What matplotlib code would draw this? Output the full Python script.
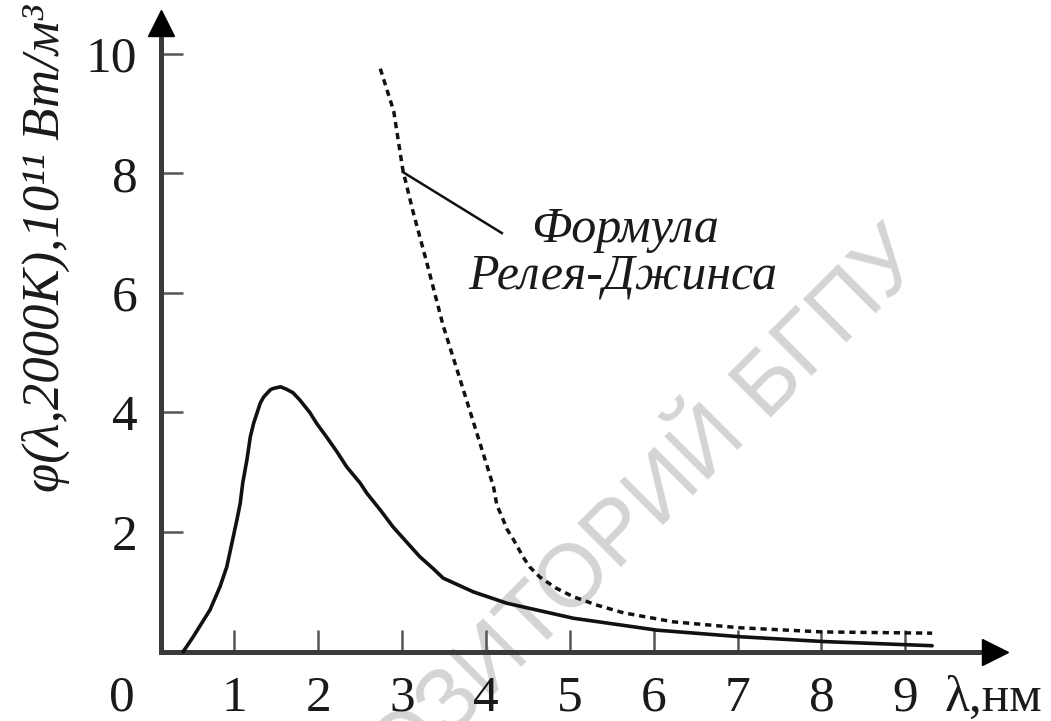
import matplotlib
matplotlib.use("Agg")
import matplotlib.pyplot as plt
from matplotlib.transforms import offset_copy

# ---- data ----
x_ticks = [1, 2, 3, 4, 5, 6, 7, 8, 9]
x_tick_labels = ["1", "2", "3", "4", "5", "6", "7", "8", "9"]
y_ticks = [2, 4, 6, 8, 10]
y_tick_labels = ["2", "4", "6", "8", "10"]

# Planck curve (solid)
planck_x = [0.39, 0.51, 0.71, 0.83, 0.91, 0.97, 1.03, 1.07, 1.10, 1.15, 1.19,
            1.23, 1.31, 1.35, 1.43, 1.46, 1.55, 1.62, 1.70, 1.78, 1.90, 1.98,
            2.10, 2.22, 2.34, 2.50, 2.58, 2.74, 2.89, 3.05, 3.21, 3.37, 3.49,
            3.85, 4.25, 5.04, 6.04, 7.03, 8.02, 9.32]
planck_y = [0.00, 0.25, 0.70, 1.09, 1.42, 1.81, 2.20, 2.48, 2.82, 3.21, 3.59,
            3.82, 4.16, 4.26, 4.38, 4.40, 4.43, 4.39, 4.33, 4.21, 4.00, 3.82,
            3.59, 3.35, 3.09, 2.82, 2.65, 2.37, 2.09, 1.84, 1.59, 1.39, 1.23,
            1.00, 0.81, 0.56, 0.36, 0.25, 0.17, 0.10]

# Rayleigh-Jeans formula (dotted)
rj_x = [2.74, 2.90, 3.01, 3.13, 3.29, 3.49, 3.69, 3.89, 4.09, 4.13, 4.19,
        4.25, 4.33, 4.44, 4.52, 4.64, 4.84, 5.04, 5.32, 5.64, 6.23, 7.03,
        8.02, 9.32]
rj_y = [9.75, 9.04, 8.05, 7.36, 6.53, 5.45, 4.56, 3.66, 2.76, 2.45, 2.26,
        2.05, 1.87, 1.59, 1.42, 1.25, 1.06, 0.92, 0.78, 0.65, 0.50, 0.40,
        0.33, 0.31]

# leader line from the label to the dotted curve
pointer_x = [3.01, 4.19]
pointer_y = [8.02, 7.00]

label_line1 = "Формула"
label_line2 = "Релея-Джинса"
y_label = "φ(λ,2000K),10¹¹ Вт/м³"
x_label = "λ,нм"
origin_label = "0"
watermark = "РЕПОЗИТОРИЙ БГПУ"

# ---- layout ----
W, H = 1051, 721
fig = plt.figure(figsize=(W / 100, H / 100), dpi=100)
ax = fig.add_axes([0, 0, 1, 1])
ax.set_xlim(-1.794, 10.737)
ax.set_ylim(-1.159, 10.898)
ax.patch.set_alpha(0)

serif = ["Liberation Serif", "DejaVu Serif"]
axis_color = "#3a3a3a"
ink = "#1a1a1a"

x_left = 0.125
x_end = 10.07
y_end = 10.51

for s in ("top", "right"):
    ax.spines[s].set_visible(False)
ax.spines["left"].set_position(("data", x_left))
ax.spines["left"].set_bounds(0, y_end)
ax.spines["bottom"].set_position(("data", 0))
ax.spines["bottom"].set_bounds(x_left, x_end)
for s in ("left", "bottom"):
    ax.spines[s].set_linewidth(3.6)
    ax.spines[s].set_color(axis_color)

ax.set_xticks(x_ticks)
ax.set_xticklabels(x_tick_labels, fontfamily=serif, fontsize=37)
ax.set_yticks(y_ticks)
ax.set_yticklabels(y_tick_labels, fontfamily=serif, fontsize=37)
ax.tick_params(axis="both", direction="in", length=16, width=1.8,
               color="#555555", pad=17, labelcolor=ink)

# arrow heads
ax.plot([x_end], [0], marker=">", ms=19, color="black", clip_on=False, zorder=5)
ax.plot([x_left], [y_end], marker="^", ms=19, color="black", clip_on=False, zorder=5)

# curves
ax.plot(planck_x, planck_y, color="#111111", lw=2.6, solid_capstyle="round",
        solid_joinstyle="round", zorder=3)
ax.plot(rj_x, rj_y, color="#111111", lw=2.5, linestyle=(0, (1.8, 1.4)), zorder=3)
ax.plot(pointer_x, pointer_y, color="#111111", lw=1.8, zorder=3)

# annotation text
ax.text(5.66, 6.85, label_line1, fontfamily=serif, fontstyle="italic",
        fontsize=36, ha="center", va="baseline", color=ink)
ax.text(5.63, 6.08, label_line2, fontfamily=serif, fontstyle="italic",
        fontsize=36, ha="center", va="baseline", color=ink)

# origin and axis-name labels on the tick label row
row = offset_copy(ax.transData, fig=fig, y=-17, units="points")
ax.text(-0.34, 0, origin_label, transform=row, fontfamily=serif, fontsize=37,
        ha="center", va="top", color=ink)
ax.text(9.47, 0, x_label, transform=row, fontfamily=serif, fontsize=37,
        ha="left", va="top", color=ink)

# y axis label
ax.text(46 / W, 1 - 248 / H, y_label, transform=ax.transAxes, rotation=90,
        fontfamily=serif, fontstyle="italic", fontsize=38, ha="center",
        va="center", color=ink)

# watermark
ax.text(910 / W, 1 - 246 / H, watermark, transform=ax.transAxes, rotation=45,
        rotation_mode="anchor", ha="right", va="center",
        fontfamily=["Liberation Sans", "DejaVu Sans"], fontsize=64,
        color="#d4d4d4", zorder=0)

fig.savefig("out.png", dpi=100)
